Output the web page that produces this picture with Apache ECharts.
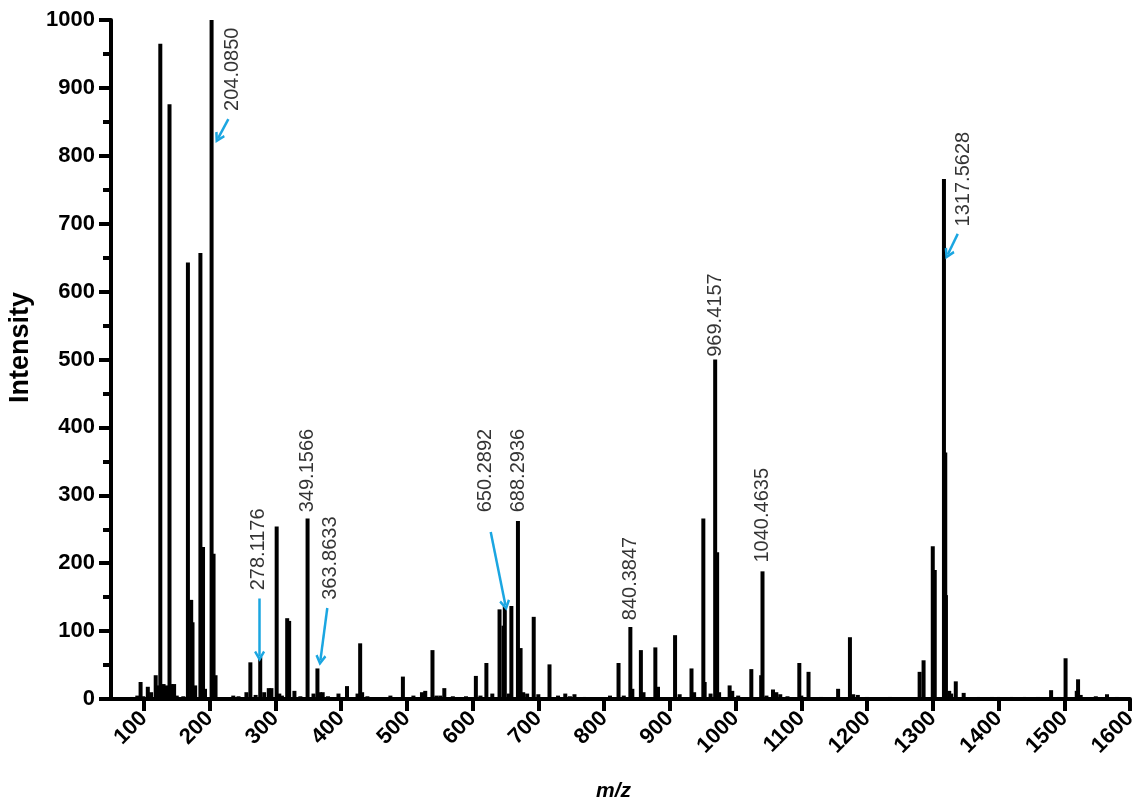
<!DOCTYPE html>
<html>
<head>
<meta charset="utf-8">
<script src="https://cdn.jsdelivr.net/npm/echarts@6/dist/echarts.min.js"></script>
<style>html,body{margin:0;padding:0;background:#fff}#c{width:1135px;height:801px}</style>
</head>
<body>
<div id="c"></div>
<script>
// Peaks: [m/z, intensity]
const peaks = [
 [82,3],[90,5],[95,25],[99,4],[106,18],[111,10],[118,35],[121,20],[125,965],[130,22],[134,20],[139,876],
 [142,22],[146,22],[150,5],[160,4],[167,643],[172,146],[174,113],[178,20],[186,657],[190,224],[193,15],
 [203,1000],[206,214],[209,35],[236,5],[244,4],[256,10],[262,54],[270,6],[277,62],[283,10],[290,16],
 [294,16],[302,254],[306,8],[310,5],[318,119],[321,115],[329,12],[338,4],[349,266],[358,8],[364,45],
 [368,10],[372,10],[380,4],[396,8],[409,19],[425,8],[429,82],[432,10],[440,4],[475,5],[494,33],[510,5],
 [523,10],[528,12],[539,72],[545,5],[551,5],[557,16],[570,4],[590,4],[605,34],[612,5],[621,53],[630,8],
 [641,132],[647,108],[649,137],[655,8],[659,137],[669,262],[673,75],[677,10],[683,8],[693,121],[700,7],
 [717,51],[730,5],[741,8],[748,4],[755,7],[770,3],[809,5],[822,53],[830,5],[840,106],[843,15],[856,72],
 [860,10],[878,76],[882,18],[908,94],[915,7],[933,45],[937,10],[951,266],[953,25],[962,8],[969,500],
 [972,216],[975,10],[991,20],[995,12],[1004,5],[1024,44],[1039,35],[1041,188],[1047,5],[1057,14],
 [1062,10],[1068,7],[1079,4],[1097,53],[1100,5],[1111,40],[1130,3],[1156,15],[1174,91],[1179,7],
 [1186,6],[1200,3],[1235,3],[1280,40],[1286,57],[1300,225],[1303,190],[1317,766],[1319,363],[1320,153],
 [1325,12],[1328,8],[1335,26],[1347,9],[1370,3],[1390,3],[1400,3],[1420,3],[1440,3],[1460,3],[1480,13],
 [1492,3],[1502,60],[1519,12],[1521,29],[1525,6],[1548,4],[1565,7],[1580,3]
];
// Annotation labels: [text, m/z, intensity at text start]
const annLabels = [
 ['204.0850',234.5,866],['278.1176',274,160],['349.1566',349,275],['363.8633',384,146],
 ['650.2892',620,275],['688.2936',670,275],['840.3847',840,116],['969.4157',970,504],
 ['1040.4635',1041,201],['1317.5628',1347,696]
];
// Arrows: [[fromX,fromY],[toX,toY]]
const arrows = [
 [[228.5,854],[213,826]],
 [[276,148],[276,63]],
 [[379,134],[368.5,57]],
 [[627.6,246],[650,138]],
 [[1338,685],[1323,655]]
];
const xTicks = [100,200,300,400,500,600,700,800,900,1000,1100,1200,1300,1400,1500,1600];

const chart = echarts.init(document.getElementById('c'));
const font = "'Liberation Sans', Arial, sans-serif";
const chevron = 'path://M5,0 L10,7.5 L8.2,8.8 L5,4 L1.8,8.8 L0,7.5 Z';
chart.setOption({
  animation:false,
  grid:{left:111,right:5,top:20,bottom:102,outerBoundsMode:'none',containLabel:false},
  xAxis:{
    type:'value',min:50,max:1600,
    name:'m/z',nameLocation:'middle',nameGap:82,
    nameTextStyle:{fontFamily:font,fontSize:21,fontWeight:'bold',fontStyle:'italic',color:'#000',padding:[0,14,0,0]},
    axisLine:{show:true,onZero:false,lineStyle:{color:'#000',width:4}},
    axisTick:{show:true,customValues:xTicks,length:12,lineStyle:{color:'#000',width:4}},
    axisLabel:{customValues:xTicks,rotate:45,margin:16,formatter:v=>String(v),fontFamily:font,fontSize:22,fontWeight:'bold',color:'#000'},
    splitLine:{show:false}
  },
  yAxis:{
    type:'value',min:0,max:1000,interval:100,
    name:'Intensity',nameLocation:'middle',nameGap:77,
    nameTextStyle:{fontFamily:font,fontSize:27,fontWeight:'bold',color:'#000',padding:[0,0,0,24]},
    axisLine:{show:true,lineStyle:{color:'#000',width:4}},
    axisTick:{show:true,length:12,lineStyle:{color:'#000',width:4}},
    minorTick:{show:true,splitNumber:2,length:8,lineStyle:{color:'#000',width:4}},
    axisLabel:{margin:16,formatter:v=>String(v),fontFamily:font,fontSize:22,fontWeight:'bold',color:'#000'},
    splitLine:{show:false}
  },
  series:[
    {type:'bar',data:peaks,barWidth:4,itemStyle:{color:'#000'},silent:true},
    {type:'scatter',symbolSize:0,data:annLabels.map(a=>[a[1],a[2],a[0]]),
     label:{show:true,position:'inside',formatter:p=>p.value[2],rotate:90,align:'left',verticalAlign:'middle',
       fontFamily:font,fontSize:20,color:'#000',textBorderWidth:0},z:5},
    {type:'lines',coordinateSystem:'cartesian2d',data:arrows.map(a=>({coords:a})),
     symbol:['none',chevron],symbolSize:[12,11],
     lineStyle:{color:'#1BA6E1',width:2.5,opacity:1},z:6}
  ]
});
</script>
</body>
</html>
